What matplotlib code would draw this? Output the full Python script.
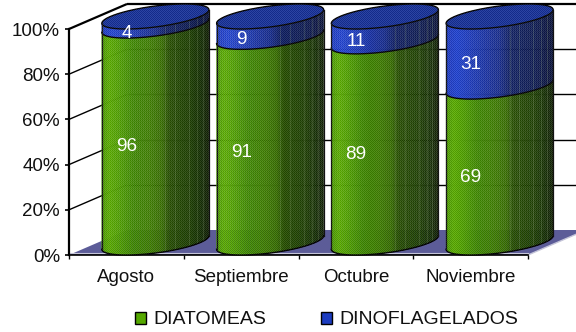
import numpy as np
import matplotlib
matplotlib.use("Agg")
import matplotlib.pyplot as plt
from matplotlib.patches import Polygon, Patch
from matplotlib.collections import PolyCollection
from matplotlib.colors import LinearSegmentedColormap
from matplotlib.path import Path

plt.rcParams["font.family"] = ["Liberation Sans", "DejaVu Sans"]

months = ["Agosto", "Septiembre", "Octubre", "Noviembre"]
diatomeas = [96, 91, 89, 69]
dinoflagelados = [4, 9, 11, 31]
y_ticks = [0, 20, 40, 60, 80, 100]
series_names = ["DIATOMEAS", "DINOFLAGELADOS"]

W, H = 576, 332
fig = plt.figure(figsize=(W / 100, H / 100), dpi=100)
L, R, B, T = 69, 528, 255, 29
ax = fig.add_axes([L / W, 1 - B / H, (R - L) / W, (B - T) / H])
ax.set_xlim(0, len(months))
ax.set_ylim(0, 100)

# Oblique depth vector and cylinder size, in data units
DX = 58 / ((R - L) / len(months))
DY = 25 / ((B - T) / 100)
A = 0.392
th0 = np.arctan2(DX / 2, A)
RAD = np.hypot(A, DX / 2)

green_map = LinearSegmentedColormap.from_list("g", [
    (0.00, "#4a9a00"), (0.07, "#5cb000"), (0.20, "#4c9c00"), (0.30, "#3f8a00"),
    (0.45, "#3f8000"), (0.56, "#387000"), (0.63, "#264f00"), (0.82, "#1e4002"),
    (0.93, "#163004"), (1.00, "#102004")])
blue_map = LinearSegmentedColormap.from_list("b", [
    (0.00, "#1c3ac4"), (0.10, "#2244d4"), (0.30, "#1c38b4"), (0.50, "#172c90"),
    (0.60, "#0f1f64"), (0.85, "#0d1a52"), (1.00, "#09123a")])
stripe_us = [0.60, 0.70, 0.82, 0.90, 0.96]


def ring(cx, cy, theta):
    """Point on the circular section of a cylinder, seen in oblique projection."""
    return (cx + A * np.cos(theta) + DX / 2 * np.sin(theta),
            cy + DY / 2 * np.sin(theta))


def front_edge(cx, level, n=60):
    phi = np.linspace(np.pi, 2 * np.pi, n)
    return ring(cx, level, th0 + phi)


def draw_section(cx, y0, y1, cmap, z):
    n = 54
    xs = np.linspace(-RAD, RAD, n + 1)
    phi = 2 * np.pi - np.arccos(np.clip(xs / RAD, -1, 1))
    xb, yb = ring(cx, y0, th0 + phi)
    xt, yt = ring(cx, y1, th0 + phi)
    quads, colors = [], []
    for k in range(n):
        u = (k + 0.5) / n
        quads.append([(xb[k], yb[k]), (xb[k + 1], yb[k + 1]), (xt[k + 1], yt[k + 1]), (xt[k], yt[k])])
        colors.append(cmap(u))
    ax.add_collection(PolyCollection(quads, facecolors=colors, edgecolors=colors,
                                     linewidths=0.3, zorder=z, clip_on=False))
    # thin pale streaks on the shaded side
    for u in stripe_us:
        k = int(u * n)
        ax.plot([xb[k], xt[k]], [yb[k], yt[k]], color="#9fb88a", lw=0.5, alpha=0.28,
                zorder=z + 0.1, clip_on=False)
    ex0, ey0 = front_edge(cx, y0)
    ex1, ey1 = front_edge(cx, y1)
    outline = np.vstack([np.c_[ex0, ey0], np.c_[ex1, ey1][::-1]])
    return Polygon(outline, closed=True, transform=ax.transData)


# Walls and floor
ax.add_patch(Polygon([(0, 0), (4, 0), (4 + DX, DY), (DX, DY)], closed=True,
                     facecolor="#5c5c98", edgecolor="none", zorder=1, clip_on=False))
ax.plot([0, 4], [0.9, 0.9], color="#c4c4d8", lw=0.8, zorder=1.1, clip_on=False)
ax.plot([4, 4 + DX], [0, DY], color="#c4c4d8", lw=1.0, zorder=1.1, clip_on=False)
for t in y_ticks[1:]:
    lw = 1.6 if t == 100 else 1.0
    ax.plot([0, DX], [t, t + DY], color="black", lw=lw, zorder=1.2, clip_on=False,
            solid_capstyle="butt")
    ax.plot([DX, 4 + DX], [t + DY, t + DY], color="black", lw=lw, zorder=1.2, clip_on=False,
            solid_capstyle="butt")

clip_shapes = []
for i, (d, f) in enumerate(zip(diatomeas, dinoflagelados)):
    cx = i + 0.5 + DX / 2
    base = DY / 2
    z = 3 + i
    g_poly = draw_section(cx, base, base + d, green_map, z)
    b_poly = draw_section(cx, base + d, base + d + f, blue_map, z)

    theta = np.linspace(0, 2 * np.pi, 160)
    ex, ey = ring(cx, base + d + f, theta)
    ax.add_patch(Polygon(np.c_[ex, ey], closed=True, facecolor="#16309a", edgecolor="none",
                         zorder=z + 0.2, clip_on=False))
    clip_shapes += [g_poly, b_poly, Polygon(np.c_[ex, ey], closed=True, transform=ax.transData)]

    # Black contours of the section boundary, the rim and the silhouette
    bx, by = front_edge(cx, base)
    mx, my = front_edge(cx, base + d)
    ax.plot(bx, by, color="black", lw=1.0, zorder=z + 0.6, clip_on=False)
    ax.plot(mx, my, color="black", lw=1.0, zorder=z + 0.6, clip_on=False)
    ax.plot(ex, ey, color="black", lw=1.0, zorder=z + 0.6, clip_on=False)
    for sign in (-1, 1):
        xs = cx + sign * RAD
        off = sign * (DY / 2) * np.sin(th0)
        ax.plot([xs, xs], [base + off, base + d + f + off], color="#111111", lw=0.9,
                zorder=z + 0.6, clip_on=False)

# One-pixel checker grain over the cylinders
grain = fig.add_axes([0, 0, 1, 1], zorder=ax.get_zorder() + 1)
grain.patch.set_alpha(0)
grain.axis("off")
yy, xx = np.mgrid[0:H, 0:W]
cell = (xx + yy) % 2
tex = np.zeros((H, W, 4))
tex[..., :3] = cell[..., None]
tex[..., 3] = 0.10
verts, codes = [], []
for poly in clip_shapes:
    v = poly.get_xy()
    verts.append(v)
    codes.append([Path.MOVETO] + [Path.LINETO] * (len(v) - 2) + [Path.CLOSEPOLY])
clip_path = Path(np.vstack(verts), np.concatenate(codes))
img = grain.imshow(tex, extent=(0, W, 0, H), aspect="auto", interpolation="nearest", zorder=1)
img.set_clip_path(clip_path, ax.transData)

# Percentages printed on the front face of each segment
overlay = fig.add_axes(ax.get_position(), zorder=grain.get_zorder() + 1)
overlay.patch.set_alpha(0)
overlay.axis("off")
overlay.set_xlim(0, 4)
overlay.set_ylim(0, 100)
for i, (d, f) in enumerate(zip(diatomeas, dinoflagelados)):
    overlay.text(i + 0.5, d / 2, str(d), color="white", fontsize=13.6, ha="center", va="center")
    overlay.text(i + 0.5, d + f / 2, str(f), color="white", fontsize=13.6, ha="center", va="center")

# Axes
for name in ("top", "right"):
    ax.spines[name].set_visible(False)
ax.spines["left"].set_linewidth(1.6)
ax.spines["bottom"].set_linewidth(1.2)
ax.patch.set_alpha(0)
ax.set_yticks(y_ticks)
ax.set_yticklabels([f"{t}%" for t in y_ticks], fontsize=13.5, color="#111111")
ax.set_xticks(range(len(months) + 1))
ax.set_xticklabels([])
ax.set_xticks([i + 0.5 for i in range(len(months))], minor=True)
ax.set_xticklabels(months, minor=True, fontsize=13.5, color="#111111")
ax.tick_params(axis="x", which="minor", length=0, pad=10)
ax.tick_params(axis="x", which="major", length=3, width=1)
ax.tick_params(axis="y", length=3, width=1.2, pad=3.5)

handles = [Patch(facecolor="#55a800", edgecolor="black", lw=1),
           Patch(facecolor="#1c3cc0", edgecolor="black", lw=1)]
fig.legend(handles, series_names, ncol=2, loc="center", bbox_to_anchor=(326.5 / W, 1 - 320 / H),
           frameon=False, fontsize=14, handlelength=0.57, handleheight=0.57,
           handletextpad=0.36, columnspacing=2.83, labelcolor="#111111",
           borderaxespad=0, borderpad=0)

fig.savefig("out.png", dpi=100)
